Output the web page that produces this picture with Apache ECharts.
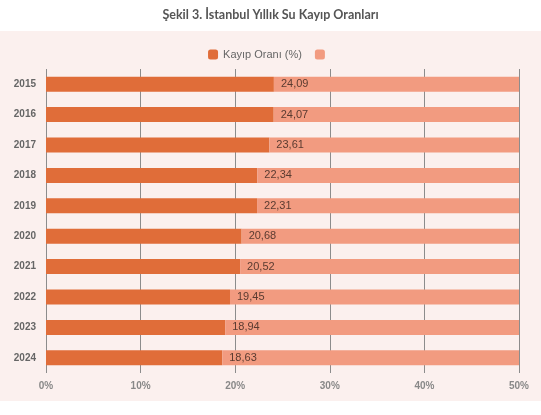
<!DOCTYPE html>
<html>
<head>
<meta charset="utf-8">
<script src="https://cdn.jsdelivr.net/npm/echarts@6/dist/echarts.min.js"></script>
<style>
  html, body { margin: 0; padding: 0; background: #fff; }
  #chart { width: 541px; height: 415px; }
</style>
</head>
<body>
<div id="chart"></div>
<script>
const years = ['2015', '2016', '2017', '2018', '2019', '2020', '2021', '2022', '2023', '2024']
const lossRate = [24.09, 24.07, 23.61, 22.34, 22.31, 20.68, 20.52, 19.45, 18.94, 18.63]
const axisMax = 50
const rest = lossRate.map(v => +(axisMax - v).toFixed(2))

const chart = echarts.init(document.getElementById('chart'), null, { renderer: 'canvas' })

const option = {
  animation: false,
  textStyle: { fontFamily: '"Liberation Sans", Arial, sans-serif' },
  graphic: [{
    type: 'rect',
    z: -10,
    shape: { x: 0, y: 31, width: 541, height: 370 },
    style: { fill: '#fbf0ee' }
  }],
  title: {
    text: 'Şekil 3. İstanbul Yıllık Su Kayıp Oranları',
    left: 'center',
    top: 3,
    textStyle: { fontFamily: 'Lato, sans-serif', fontSize: 12.5, fontWeight: 'bold', color: '#555' }
  },
  color: ['#e06d39', '#f29b80'],
  legend: {
    top: 44,
    left: 'center',
    itemWidth: 10,
    itemHeight: 10,
    itemGap: 13,
    icon: 'roundRect',
    textStyle: { fontSize: 11, color: '#666' },
    data: ['Kayıp Oranı (%)', ' ']
  },
  grid: { left: 46, right: 22, top: 69, bottom: 42 },
  xAxis: {
    type: 'value',
    min: 0,
    max: axisMax,
    interval: 10,
    axisLine: { show: false },
    axisTick: { show: false },
    splitLine: { show: true, lineStyle: { color: '#8c8c8c', width: 1 } },
    axisLabel: {
      formatter: '{value}%',
      fontSize: 10,
      fontWeight: 'bold',
      color: '#888',
      margin: 8
    }
  },
  yAxis: {
    type: 'category',
    inverse: true,
    data: years,
    axisLine: { show: false },
    axisTick: { show: false },
    axisLabel: { fontSize: 10, fontWeight: 'bold', color: '#666', margin: 10 }
  },
  series: [{
    name: 'Kayıp Oranı (%)',
    type: 'bar',
    stack: 'total',
    barWidth: 15,
    data: lossRate
  }, {
    name: ' ',
    type: 'bar',
    stack: 'total',
    barWidth: 15,
    data: rest,
    label: {
      show: true,
      position: 'insideLeft',
      distance: 7,
      fontSize: 11,
      color: '#5a3b30',
      formatter: p => lossRate[p.dataIndex].toFixed(2).replace('.', ',')
    }
  }]
}

chart.setOption(option)
</script>
</body>
</html>
